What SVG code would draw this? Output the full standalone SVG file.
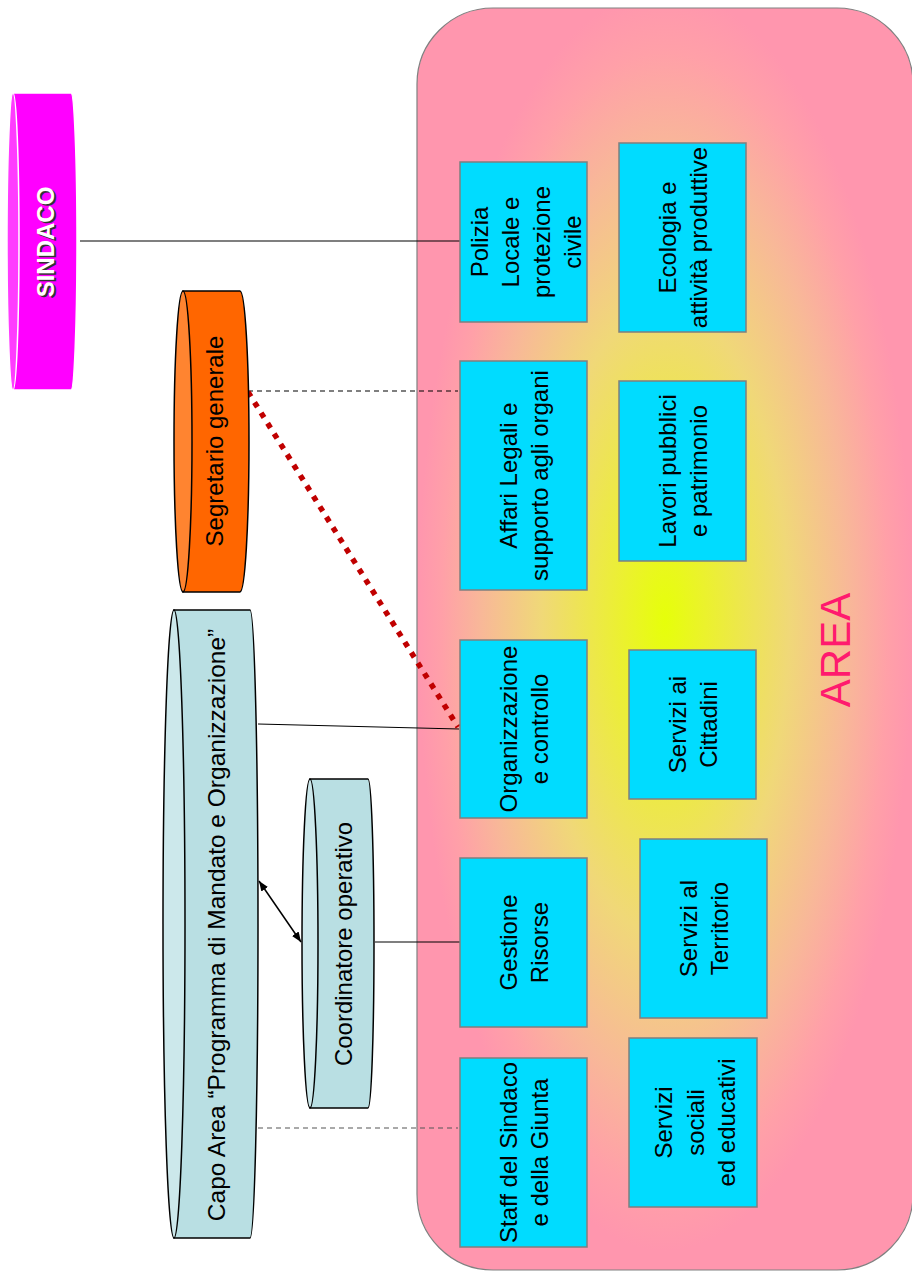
<svg xmlns="http://www.w3.org/2000/svg" width="912" height="1272" viewBox="0 0 912 1272">
<defs>
<radialGradient id="areaGrad" cx="0.5" cy="0.485" r="0.5" gradientUnits="objectBoundingBox">
<stop offset="0" stop-color="#e6ff0a"/>
<stop offset="0.16" stop-color="#ebf22c"/>
<stop offset="0.5" stop-color="#f0d878"/>
<stop offset="0.74" stop-color="#f8b898"/>
<stop offset="0.9" stop-color="#ffa0a8"/>
<stop offset="1" stop-color="#ff96ae"/>
</radialGradient>
<marker id="ah" viewBox="0 0 10 8" refX="10" refY="4" markerWidth="10" markerHeight="8" markerUnits="userSpaceOnUse" orient="auto-start-reverse">
<path d="M0,0 L10,4 L0,8 z" fill="#000"/>
</marker>
</defs>
<style>
.box{fill:#00dcff;stroke:#7f7f7f;stroke-width:1.5}
.t{font-family:"Liberation Sans",Arial,sans-serif;font-size:24px;fill:#000;text-anchor:middle}
.cyl{stroke:#000;stroke-width:1.5}
.ln{stroke:#000;stroke-width:1.2;fill:none}
.dash{stroke:#000;stroke-width:1.2;fill:none;stroke-dasharray:5 4}
</style>

<g id="area">
<rect x="417" y="8" width="496" height="1262" rx="76" ry="76" fill="url(#areaGrad)" stroke="#808080" stroke-width="1.2"/>
<text transform="translate(850,650) rotate(-90)" style="font-family:'Liberation Sans',Arial,sans-serif;font-size:42px;fill:#ff1a6e;text-anchor:middle">AREA</text>
</g>

<g id="connectors">
<line class="ln" x1="80" y1="241" x2="460" y2="241"/>
<line class="dash" x1="248" y1="391" x2="458" y2="391"/>
<line class="ln" x1="258" y1="724" x2="459" y2="729"/>
<line class="ln" x1="375" y1="942" x2="460" y2="942"/>
<line class="dash" x1="258" y1="1128" x2="458" y2="1128" style="stroke:#555"/>
<line x1="248" y1="392" x2="458" y2="727" stroke="#c00000" stroke-width="5.5" stroke-dasharray="5.5 6.8"/>
<line x1="259" y1="881" x2="301" y2="942" stroke="#000" stroke-width="1.5" marker-start="url(#ah)" marker-end="url(#ah)"/>
</g>

<g id="sindaco">
<path d="M13,93 L71,93 A6,148.5 0 0 1 71,390 L13,390 Z" fill="#ff00ff" stroke="#ffffff" stroke-width="1.5"/>
<ellipse cx="13" cy="241.5" rx="6" ry="148.5" fill="#ff3cff" stroke="#ffffff" stroke-width="1.5"/>
<text transform="translate(55.5,243.5) rotate(-90)" style="font-family:'Liberation Sans',Arial,sans-serif;font-size:24px;font-weight:bold;fill:#333;text-anchor:middle">SINDACO</text>
<text transform="translate(54,242) rotate(-90)" style="font-family:'Liberation Sans',Arial,sans-serif;font-size:24px;font-weight:bold;fill:#fff;text-anchor:middle">SINDACO</text>
</g>

<g id="segretario">
<path class="cyl" d="M183,291 L240,291 A9,150.5 0 0 1 240,592 L183,592 Z" fill="#ff6600"/>
<ellipse class="cyl" cx="183" cy="441.5" rx="9" ry="150.5" fill="#ff8430"/>
<text class="t" transform="translate(223,441) rotate(-90)">Segretario generale</text>
</g>

<g id="capo-area">
<path class="cyl" d="M174,610 L250,610 A8,314 0 0 1 250,1238 L174,1238 Z" fill="#b9dfe3"/>
<ellipse class="cyl" cx="174" cy="924" rx="11" ry="314" fill="#cce8eb"/>
<text class="t" transform="translate(225,925) rotate(-90)" style="font-size:24.5px">Capo Area “Programma di Mandato e Organizzazione”</text>
</g>

<g id="coordinatore">
<path class="cyl" d="M310,779 L368,779 A6,164.5 0 0 1 368,1108 L310,1108 Z" fill="#b9dfe3"/>
<ellipse class="cyl" cx="310" cy="943.5" rx="8" ry="164.5" fill="#cce8eb"/>
<text class="t" transform="translate(352,944) rotate(-90)">Coordinatore operativo</text>
</g>

<g id="polizia">
<rect class="box" x="460" y="162" width="127" height="160"/>
<text class="t" transform="translate(488,242) rotate(-90)"><tspan x="0" y="0">Polizia</tspan><tspan x="0" y="31">Locale e</tspan><tspan x="0" y="62">protezione</tspan><tspan x="0" y="93">civile</tspan></text>
</g>

<g id="affari-legali">
<rect class="box" x="460" y="361" width="127" height="229"/>
<text class="t" transform="translate(517,475.5) rotate(-90)"><tspan x="0" y="0">Affari Legali e</tspan><tspan x="0" y="31">supporto agli organi</tspan></text>
</g>

<g id="organizzazione">
<rect class="box" x="460" y="640" width="127" height="178"/>
<text class="t" transform="translate(517,729) rotate(-90)"><tspan x="0" y="0">Organizzazione</tspan><tspan x="0" y="31">e controllo</tspan></text>
</g>

<g id="gestione">
<rect class="box" x="460" y="858" width="127" height="169"/>
<text class="t" transform="translate(517,942.5) rotate(-90)"><tspan x="0" y="0">Gestione</tspan><tspan x="0" y="31">Risorse</tspan></text>
</g>

<g id="staff">
<rect class="box" x="460" y="1058" width="127" height="189"/>
<text class="t" transform="translate(517,1152.5) rotate(-90)"><tspan x="0" y="0">Staff del Sindaco</tspan><tspan x="0" y="31">e della Giunta</tspan></text>
</g>

<g id="ecologia">
<rect class="box" x="619" y="143" width="127" height="189"/>
<text class="t" transform="translate(676,237.5) rotate(-90)"><tspan x="0" y="0">Ecologia e</tspan><tspan x="0" y="31">attività produttive</tspan></text>
</g>

<g id="lavori-pubblici">
<rect class="box" x="619" y="381" width="127" height="180"/>
<text class="t" transform="translate(676,471) rotate(-90)"><tspan x="0" y="0">Lavori pubblici</tspan><tspan x="0" y="31">e patrimonio</tspan></text>
</g>

<g id="servizi-cittadini">
<rect class="box" x="629" y="650" width="127" height="149"/>
<text class="t" transform="translate(686,724.5) rotate(-90)"><tspan x="0" y="0">Servizi ai</tspan><tspan x="0" y="31">Cittadini</tspan></text>
</g>

<g id="servizi-territorio">
<rect class="box" x="640" y="839" width="127" height="179"/>
<text class="t" transform="translate(697,928.5) rotate(-90)"><tspan x="0" y="0">Servizi al</tspan><tspan x="0" y="31">Territorio</tspan></text>
</g>

<g id="servizi-sociali">
<rect class="box" x="629" y="1038" width="128" height="169"/>
<text class="t" transform="translate(672,1122.5) rotate(-90)"><tspan x="0" y="0">Servizi</tspan><tspan x="0" y="31.5">sociali</tspan><tspan x="0" y="63">ed educativi</tspan></text>
</g>
</svg>
